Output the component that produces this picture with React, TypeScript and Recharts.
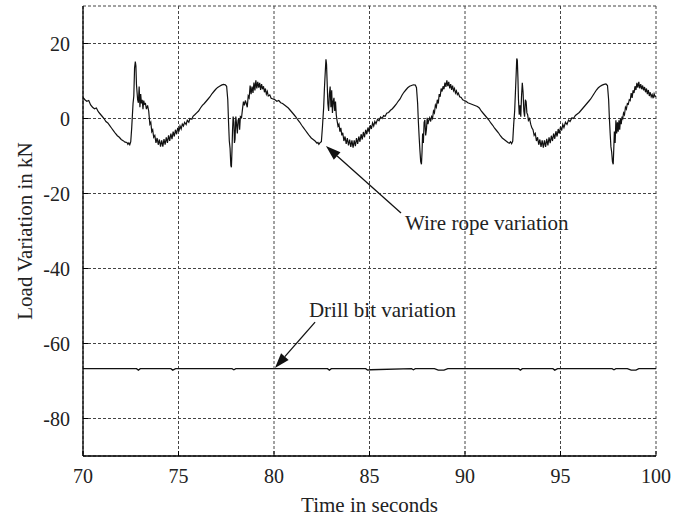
import { LineChart, Line, XAxis, YAxis, CartesianGrid } from "recharts";

const SERIF = "'Liberation Serif', 'Times New Roman', serif";

// Axis ticks
const xTicks = [70, 75, 80, 85, 90, 95, 100];
const yTicks = [-80, -60, -40, -20, 0, 20];

// Wire rope load variation [time s, kN]
const wireRope: [number, number][] = [
  [70.0, 5.6], [70.1, 5.0], [70.2, 4.6], [70.3, 4.8], [70.4, 3.6], [70.5, 3.0], [70.6, 2.6], [70.7, 2.8],
  [70.8, 1.8], [70.9, 1.2], [71.0, 0.6], [71.1, 0.0], [71.2, -0.8], [71.3, -1.2], [71.4, -1.9], [71.5, -2.6],
  [71.6, -3.3], [71.7, -4.0], [71.8, -4.6], [71.9, -5.0], [72.0, -5.6], [72.1, -5.9], [72.2, -6.3], [72.3, -6.4],
  [72.35, -6.9], [72.4, -6.5], [72.45, -7.0], [72.5, -6.2],
  [72.55, -2.5], [72.62, 4.0], [72.66, 6.0], [72.7, 13.5], [72.74, 15.2], [72.77, 14.0], [72.8, 9.0], [72.83, 7.0],
  [72.86, 5.0], [72.9, 4.2], [72.94, 8.5], [72.98, 3.0], [73.02, 6.5], [73.06, 4.0], [73.1, 5.0], [73.14, 2.5],
  [73.18, 4.8], [73.22, 3.8], [73.27, 4.0], [73.32, 2.5], [73.38, 3.5], [73.44, 2.0], [73.5, -1.5], [73.55, -1.0],
  [73.6, -3.5], [73.65, -3.0], [73.7, -5.0], [73.76, -4.5], [73.82, -6.5], [73.88, -5.2], [73.94, -7.0], [74.0, -5.6],
  [74.06, -7.5], [74.12, -5.8], [74.18, -7.5], [74.24, -5.5], [74.3, -7.0], [74.36, -5.0], [74.42, -6.5], [74.48, -4.5],
  [74.54, -6.0], [74.6, -4.0], [74.66, -5.5], [74.72, -3.5], [74.78, -4.8], [74.84, -3.0], [74.9, -4.2], [74.96, -2.5],
  [75.02, -3.5], [75.08, -2.0], [75.14, -2.8], [75.2, -1.5], [75.26, -2.0], [75.32, -1.0], [75.4, -1.6], [75.46, -0.5],
  [75.54, -1.0], [75.6, 0.0], [75.7, -0.2], [75.76, 0.6], [75.85, 1.0], [75.95, 1.5], [76.05, 2.0], [76.15, 2.8],
  [76.25, 3.5], [76.35, 4.0], [76.45, 4.6], [76.55, 5.2], [76.65, 5.8], [76.75, 6.6], [76.85, 7.2], [76.95, 7.8],
  [77.05, 8.3], [77.15, 8.6], [77.25, 8.9], [77.35, 9.1], [77.45, 9.0], [77.52, 8.6],
  [77.58, 5.0], [77.62, -1.0], [77.66, -6.0], [77.7, -8.0], [77.74, -12.5], [77.77, -13.0], [77.8, -8.5], [77.83, -3.0],
  [77.86, 0.5], [77.9, -1.0], [77.93, -6.5], [77.96, -5.5], [78.0, 0.5], [78.04, -1.5], [78.08, -4.0], [78.12, -0.5],
  [78.16, 0.0], [78.2, -3.0], [78.24, 0.5], [78.3, 0.2], [78.35, 2.5], [78.4, 4.5], [78.45, 3.5], [78.5, 4.8],
  [78.55, 4.0], [78.6, 3.0], [78.65, 6.0], [78.7, 5.5], [78.75, 8.8], [78.8, 6.5], [78.85, 8.5], [78.9, 6.8],
  [78.95, 9.6], [79.0, 7.5], [79.05, 10.2], [79.1, 8.0], [79.15, 9.8], [79.2, 8.2], [79.25, 9.5], [79.3, 7.6],
  [79.35, 9.2], [79.4, 7.8], [79.45, 8.6], [79.5, 7.0], [79.55, 8.0], [79.6, 6.5], [79.65, 7.2], [79.7, 6.0],
  [79.78, 6.3], [79.85, 5.4], [79.95, 5.2], [80.05, 5.0], [80.15, 4.6], [80.25, 4.8], [80.35, 4.2], [80.45, 4.0],
  [80.55, 3.6], [80.65, 3.2], [80.75, 2.8], [80.85, 2.2], [80.95, 1.6], [81.05, 1.0], [81.15, 0.4], [81.25, -0.4],
  [81.35, -1.0], [81.45, -1.8], [81.55, -2.5], [81.65, -3.2], [81.75, -3.9], [81.85, -4.6], [81.95, -5.2], [82.05, -5.6],
  [82.15, -6.0], [82.25, -6.6], [82.3, -6.4], [82.35, -6.9], [82.42, -6.4], [82.48, -6.2],
  [82.54, -2.0], [82.6, 3.0], [82.64, 8.0], [82.68, 12.0], [82.72, 15.8], [82.75, 14.5], [82.78, 10.0], [82.82, 4.0],
  [82.86, 2.0], [82.9, 6.5], [82.94, 8.5], [82.98, 3.0], [83.02, 7.5], [83.06, 1.5], [83.1, 4.5], [83.14, 5.5],
  [83.18, 2.0], [83.22, 4.5], [83.26, 1.0], [83.3, -0.5], [83.35, -2.0], [83.4, -1.5], [83.45, -3.5], [83.5, -2.5],
  [83.55, -4.5], [83.6, -3.8], [83.66, -6.0], [83.72, -4.8], [83.78, -6.8], [83.84, -5.2], [83.9, -7.2], [83.96, -5.6],
  [84.02, -7.6], [84.08, -5.8], [84.14, -7.8], [84.2, -5.8], [84.26, -7.4], [84.32, -5.2], [84.38, -6.8], [84.44, -4.8],
  [84.5, -6.2], [84.56, -4.2], [84.62, -5.6], [84.68, -3.6], [84.74, -5.0], [84.8, -3.0], [84.86, -4.2], [84.92, -2.4],
  [84.98, -3.6], [85.04, -1.8], [85.1, -2.8], [85.16, -1.2], [85.22, -2.0], [85.28, -0.8], [85.34, -1.4], [85.42, -0.2],
  [85.5, -0.6], [85.58, 0.4], [85.66, 0.0], [85.74, 0.8], [85.82, 0.6], [85.9, 1.4], [86.0, 1.6], [86.1, 2.2],
  [86.2, 2.6], [86.3, 3.2], [86.4, 3.8], [86.5, 4.6], [86.6, 5.2], [86.7, 6.2], [86.8, 7.0], [86.9, 7.6],
  [87.0, 8.2], [87.1, 8.6], [87.2, 8.8], [87.3, 9.0], [87.4, 8.9], [87.46, 8.2],
  [87.52, 4.0], [87.56, -1.0], [87.6, -5.0], [87.64, -8.5], [87.68, -11.5], [87.72, -12.2], [87.75, -9.0], [87.78, -4.0],
  [87.82, -6.5], [87.86, -1.0], [87.9, -0.4], [87.94, -4.5], [87.98, -3.0], [88.02, 0.2], [88.06, -1.5], [88.1, -0.5],
  [88.15, 0.2], [88.2, -0.8], [88.25, 0.5], [88.3, 0.0], [88.35, 2.0], [88.4, 1.5], [88.45, 3.6], [88.5, 3.0],
  [88.55, 5.0], [88.6, 4.0], [88.65, 6.5], [88.7, 5.8], [88.75, 8.0], [88.8, 7.2], [88.85, 8.6], [88.9, 7.8],
  [88.95, 9.6], [89.0, 8.4], [89.05, 10.2], [89.1, 8.6], [89.15, 9.8], [89.2, 8.0], [89.25, 9.2], [89.3, 7.6],
  [89.35, 8.8], [89.4, 7.4], [89.45, 8.0], [89.5, 6.8], [89.55, 7.4], [89.6, 6.4], [89.65, 6.8], [89.72, 5.8],
  [89.8, 5.6], [89.88, 5.0], [89.96, 4.8], [90.05, 4.6], [90.15, 4.2], [90.25, 4.0], [90.35, 3.8], [90.45, 3.6],
  [90.55, 3.4], [90.65, 3.2], [90.75, 2.8], [90.85, 2.0], [90.95, 1.4], [91.05, 0.8], [91.15, 0.2], [91.25, -0.4],
  [91.35, -1.2], [91.45, -1.8], [91.55, -2.6], [91.65, -3.2], [91.75, -3.8], [91.85, -4.6], [91.95, -5.2], [92.05, -5.6],
  [92.15, -6.0], [92.25, -6.4], [92.32, -6.6], [92.38, -6.2], [92.44, -6.7], [92.5, -6.0],
  [92.55, -1.5], [92.6, 2.0], [92.64, 7.0], [92.68, 12.0], [92.71, 16.0], [92.74, 15.5], [92.77, 11.0], [92.8, 5.0],
  [92.84, 1.0], [92.88, 3.5], [92.92, 0.5], [92.96, 6.0], [93.0, 9.5], [93.04, 7.0], [93.08, 2.0], [93.12, 0.5],
  [93.16, 5.0], [93.2, 4.5], [93.24, 1.5], [93.28, 1.0], [93.32, -0.5], [93.38, 0.0], [93.44, -1.5], [93.5, -2.5],
  [93.56, -3.0], [93.62, -4.5], [93.68, -4.0], [93.74, -6.0], [93.8, -5.0], [93.86, -7.0], [93.92, -5.6], [93.98, -7.6],
  [94.04, -5.8], [94.1, -7.8], [94.16, -5.8], [94.22, -7.6], [94.28, -5.4], [94.34, -7.2], [94.4, -5.0], [94.46, -6.6],
  [94.52, -4.6], [94.58, -6.0], [94.64, -4.0], [94.7, -5.4], [94.76, -3.4], [94.82, -4.8], [94.88, -2.8], [94.94, -4.0],
  [95.0, -2.2], [95.06, -3.2], [95.12, -1.6], [95.18, -2.4], [95.26, -1.0], [95.34, -1.6], [95.42, -0.4], [95.5, -0.8],
  [95.6, 0.2], [95.68, 0.0], [95.78, 0.8], [95.88, 1.2], [95.98, 1.6], [96.08, 2.2], [96.18, 2.8], [96.28, 3.4],
  [96.38, 4.0], [96.48, 4.6], [96.58, 5.2], [96.68, 6.0], [96.78, 6.8], [96.88, 7.6], [96.98, 8.2], [97.08, 8.6],
  [97.18, 8.9], [97.28, 9.1], [97.38, 9.2], [97.46, 8.8],
  [97.52, 5.0], [97.56, 0.0], [97.6, -4.0], [97.64, -7.5], [97.68, -9.0], [97.72, -11.5], [97.76, -12.2], [97.79, -8.0],
  [97.82, -3.5], [97.86, -6.5], [97.9, -0.5], [97.94, -4.0], [97.98, -1.0], [98.02, -3.5], [98.06, -0.5], [98.1, -3.0],
  [98.14, 0.0], [98.18, -1.5], [98.22, 0.5], [98.26, 0.0], [98.3, 1.5], [98.35, 1.0], [98.4, 3.0], [98.45, 2.5],
  [98.5, 4.0], [98.55, 3.8], [98.6, 5.0], [98.65, 4.8], [98.7, 6.8], [98.75, 5.5], [98.8, 7.5], [98.85, 6.8],
  [98.9, 8.6], [98.95, 7.6], [99.0, 9.5], [99.05, 8.2], [99.1, 9.8], [99.15, 8.0], [99.2, 9.2], [99.25, 7.8],
  [99.3, 8.8], [99.35, 7.5], [99.4, 8.4], [99.45, 7.0], [99.5, 8.0], [99.55, 6.5], [99.6, 7.6], [99.65, 6.0],
  [99.7, 7.0], [99.75, 5.8], [99.8, 6.4], [99.85, 5.4], [99.9, 6.6], [99.95, 5.8], [100.0, 6.0],
];

// Drill bit load variation [time s, kN]
const drillBit: [number, number][] = [
  [70, -66.7], [72.8, -66.7], [72.9, -67.1], [73.0, -66.7], [74.6, -66.7], [74.7, -67.1], [74.85, -66.7],
  [77.8, -66.7], [77.9, -67.0], [78.0, -66.7], [82.8, -66.7], [82.9, -67.1], [83.0, -66.7], [84.8, -66.7],
  [84.9, -67.1], [85.05, -67.0], [87.2, -66.7], [87.3, -67.0], [87.4, -66.7], [88.4, -66.7], [88.6, -67.1],
  [88.9, -67.1], [89.1, -66.7], [92.8, -66.7], [92.9, -67.1], [93.0, -66.7], [94.6, -66.7], [94.7, -67.1],
  [94.85, -66.7], [97.7, -66.7], [97.8, -67.0], [97.9, -66.7], [98.5, -66.7], [98.7, -67.1], [98.95, -67.1],
  [99.1, -66.7], [100, -66.7],
];

const wireData = wireRope.map(([t, v]) => ({ t, v }));
const drillData = drillBit.map(([t, v]) => ({ t, v }));

// layout
const W = 697;
const H = 520;
const M = { top: 6, right: 41, left: 0, bottom: 0 };
const Y_AXIS_W = 83;
const X_AXIS_H = 64;
const X_DOMAIN = [70, 100];
const Y_DOMAIN = [-90, 30];

const plotLeft = M.left + Y_AXIS_W;
const plotW = W - plotLeft - M.right;
const plotTop = M.top;
const plotH = H - M.top - X_AXIS_H;
const px = (t: number) => plotLeft + ((t - X_DOMAIN[0]) / (X_DOMAIN[1] - X_DOMAIN[0])) * plotW;
const py = (v: number) => plotTop + ((Y_DOMAIN[1] - v) / (Y_DOMAIN[1] - Y_DOMAIN[0])) * plotH;

function BottomTick(props: any) {
  const { x, y, payload } = props;
  return (
    <g>
      <line x1={x} y1={y} x2={x} y2={y - 5} stroke="#000" />
      <text x={x} y={y + 27} textAnchor="middle" fontSize={20} fontFamily={SERIF} fill="#222">
        {payload.value}
      </text>
    </g>
  );
}

function LeftTick(props: any) {
  const { x, y, payload } = props;
  return (
    <g>
      <line x1={x} y1={y} x2={x + 5} y2={y} stroke="#000" />
      <text x={x - 13} y={y + 7} textAnchor="end" fontSize={20} fontFamily={SERIF} fill="#222">
        {payload.value}
      </text>
    </g>
  );
}

function TopTick(props: any) {
  const { x, y } = props;
  return <line x1={x} y1={y} x2={x} y2={y + 5} stroke="#000" />;
}

function RightTick(props: any) {
  const { x, y } = props;
  return <line x1={x} y1={y} x2={x - 5} y2={y} stroke="#000" />;
}

function Arrow({ from, to }: { from: [number, number]; to: [number, number] }) {
  const x1 = px(from[0]);
  const y1 = py(from[1]);
  const x2 = px(to[0]);
  const y2 = py(to[1]);
  const len = Math.hypot(x2 - x1, y2 - y1);
  const ux = (x2 - x1) / len;
  const uy = (y2 - y1) / len;
  const hl = 15;
  const hw = 5;
  const bx = x2 - ux * hl;
  const by = y2 - uy * hl;
  return (
    <g>
      <line x1={x1} y1={y1} x2={bx} y2={by} stroke="#111" strokeWidth={1.3} />
      <polygon
        points={`${x2},${y2} ${bx - uy * hw},${by + ux * hw} ${bx + uy * hw},${by - ux * hw}`}
        fill="#111"
      />
    </g>
  );
}

export default function App() {
  return (
    <div style={{ position: "absolute", left: 0, top: 0, width: W, height: H, background: "#fff" }}>
      <LineChart width={W} height={H} margin={M}>
        <CartesianGrid stroke="#444" strokeDasharray="3 2" />
        <XAxis
          type="number"
          dataKey="t"
          domain={X_DOMAIN}
          ticks={xTicks}
          interval={0}
          height={X_AXIS_H}
          allowDataOverflow
          axisLine={{ stroke: "#000", strokeWidth: 1.3 }}
          tickLine={false}
          tickSize={0}
          tickMargin={0}
          tick={<BottomTick />}
          label={{ value: "Time in seconds", position: "insideBottom", offset: 8, fontSize: 21, fontFamily: SERIF, fill: "#222" }}
        />
        <XAxis
          xAxisId="top"
          orientation="top"
          type="number"
          dataKey="t"
          domain={X_DOMAIN}
          ticks={xTicks}
          interval={0}
          height={0}
          allowDataOverflow
          axisLine={{ stroke: "#000", strokeWidth: 1.3 }}
          tickLine={false}
          tickSize={0}
          tickMargin={0}
          tick={<TopTick />}
        />
        <YAxis
          type="number"
          domain={Y_DOMAIN}
          ticks={yTicks}
          interval={0}
          width={Y_AXIS_W}
          allowDataOverflow
          axisLine={{ stroke: "#000", strokeWidth: 1.3 }}
          tickLine={false}
          tickSize={0}
          tickMargin={0}
          tick={<LeftTick />}
          label={{
            value: "Load Variation in kN",
            angle: -90,
            position: "insideLeft",
            offset: 25,
            fontSize: 21,
            fontFamily: SERIF,
            fill: "#222",
            style: { textAnchor: "middle" },
          }}
        />
        <YAxis
          yAxisId="right"
          orientation="right"
          type="number"
          domain={Y_DOMAIN}
          ticks={yTicks}
          interval={0}
          width={0}
          allowDataOverflow
          axisLine={{ stroke: "#000", strokeWidth: 1.3 }}
          tickLine={false}
          tickSize={0}
          tickMargin={0}
          tick={<RightTick />}
        />
        <Line
          data={wireData}
          dataKey="v"
          type="linear"
          stroke="#111"
          strokeWidth={1.2}
          dot={false}
          isAnimationActive={false}
        />
        <Line
          data={drillData}
          xAxisId="top"
          yAxisId="right"
          dataKey="v"
          type="linear"
          stroke="#111"
          strokeWidth={1.3}
          dot={false}
          isAnimationActive={false}
        />
      </LineChart>
      {/* annotations */}
      <svg width={W} height={H} style={{ position: "absolute", left: 0, top: 0, pointerEvents: "none" }}>
        <Arrow from={[86.65, -25.2]} to={[82.72, -7.33]} />
        <text x={px(86.86)} y={py(-29.7)} fontSize={21} fontFamily={SERIF} fill="#222">
          Wire rope variation
        </text>
        <Arrow from={[82.15, -54.3]} to={[80.05, -66.5]} />
        <text x={px(81.83)} y={py(-52.9)} fontSize={21} fontFamily={SERIF} fill="#222">
          Drill bit variation
        </text>
      </svg>
    </div>
  );
}
